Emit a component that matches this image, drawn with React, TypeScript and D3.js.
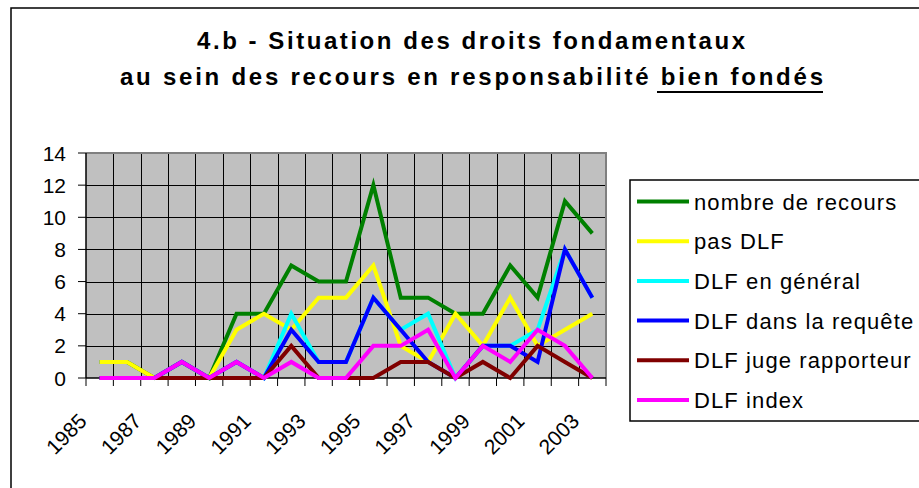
import * as d3 from "d3";
import React from "react";

const years = ["1985", "1986", "1987", "1988", "1989", "1990", "1991", "1992", "1993", "1994", "1995", "1996", "1997", "1998", "1999", "2000", "2001", "2002", "2003"];
const yearLabels = ["1985", "1987", "1989", "1991", "1993", "1995", "1997", "1999", "2001", "2003"];
const yTicks = [0, 2, 4, 6, 8, 10, 12, 14];

const nombreDeRecours = [1, 1, 0, 1, 0, 4, 4, 7, 6, 6, 12, 5, 5, 4, 4, 7, 5, 11, 9];
const pasDLF = [1, 1, 0, 0, 0, 3, 4, 3, 5, 5, 7, 2, 1, 4, 2, 5, 2, 3, 4];
const dlfGeneral = [0, 0, 0, 1, 0, 1, 0, 4, 1, 1, 5, 3, 4, 0, 2, 2, 3, 8, 5];
const dlfRequete = [0, 0, 0, 1, 0, 1, 0, 3, 1, 1, 5, 3, 1, 0, 2, 2, 1, 8, 5];
const dlfJuge = [0, 0, 0, 0, 0, 0, 0, 2, 0, 0, 0, 1, 1, 0, 1, 0, 2, 1, 0];
const dlfIndex = [0, 0, 0, 1, 0, 1, 0, 1, 0, 0, 2, 2, 3, 0, 2, 1, 3, 2, 0];

const seriesNames = ["nombre de recours", "pas DLF", "DLF en général", "DLF dans la requête", "DLF juge rapporteur", "DLF index"];
const seriesColors = ["#008000", "#FFFF00", "#00FFFF", "#0000FF", "#800000", "#FF00FF"];
const seriesValues = [nombreDeRecours, pasDLF, dlfGeneral, dlfRequete, dlfJuge, dlfIndex];

const font = "Arial, 'Liberation Sans', sans-serif";

export default function App() {
  const left = 86;
  const right = 606;
  const top = 153;
  const bottom = 378;

  const x = d3.scaleBand().domain(years).range([left, right]);
  const y = d3.scaleLinear().domain([0, 14]).range([bottom, top]);
  const step = x.step();
  const cx = (yr: string) => (x(yr) as number) + x.bandwidth() / 2;

  const line = d3
    .line<number>()
    .x((d, i) => cx(years[i]))
    .y((d) => y(d));

  const boundaries = d3.range(years.length + 1).map((k) => left + k * step);

  return (
    <svg
      width={919}
      height={488}
      style={{ position: "absolute", left: 0, top: 0, background: "#fff" }}
      fontFamily={font}
    >
      <rect x={0} y={0} width={919} height={488} fill="#fff" />
      <rect x={11} y={8} width={1000} height={1000} fill="none" stroke="#000" strokeWidth={1.5} />

      {/* titre */}
      <text x={197} y={49} fontSize={24} fontWeight="bold" textLength={548} lengthAdjust="spacing">
        4.b - Situation des droits fondamentaux
      </text>
      <text x={120} y={85} fontSize={24} fontWeight="bold" textLength={703} lengthAdjust="spacing">
        au sein des recours en responsabilité bien fondés
      </text>
      <line x1={657} x2={823} y1={92} y2={92} stroke="#000" strokeWidth={2} />

      {/* zone de tracé */}
      <rect x={left} y={top} width={right - left} height={bottom - top} fill="#C0C0C0" />
      {yTicks.slice(1).map((t) => (
        <line key={"h" + t} x1={left} x2={right} y1={Math.round(y(t)) + 0.5} y2={Math.round(y(t)) + 0.5} stroke="#000" strokeWidth={1} />
      ))}
      {boundaries.slice(1, -1).map((b, i) => (
        <line key={"v" + i} x1={Math.round(b) + 0.5} x2={Math.round(b) + 0.5} y1={top} y2={bottom} stroke="#000" strokeWidth={1} />
      ))}
      <path d={`M${left},${top}H${right}V${bottom}`} fill="none" stroke="#808080" strokeWidth={2} />

      {/* axes */}
      <line x1={left} x2={left} y1={top} y2={bottom} stroke="#000" strokeWidth={1.5} />
      <line x1={left} x2={right} y1={bottom} y2={bottom} stroke="#000" strokeWidth={1.5} />
      {yTicks.map((t) => (
        <g key={"yt" + t}>
          <line x1={left - 8} x2={left} y1={y(t)} y2={y(t)} stroke="#000" strokeWidth={1} />
          <text x={66} y={y(t) + 7.5} textAnchor="end" fontSize={21}>
            {t}
          </text>
        </g>
      ))}
      {boundaries.map((b, i) => (
        <line key={"xt" + i} x1={b} x2={b} y1={bottom} y2={bottom + 8} stroke="#000" strokeWidth={1} />
      ))}
      {yearLabels.map((yr) => (
        <text
          key={yr}
          transform={`translate(${cx(yr) - 11.7},${bottom + 44.6}) rotate(-45)`}
          textAnchor="end"
          fontSize={21}
        >
          {yr}
        </text>
      ))}

      {/* séries */}
      {seriesValues.map((vals, i) => (
        <path key={"s" + i} d={line(vals) as string} fill="none" stroke={seriesColors[i]} strokeWidth={4} strokeLinejoin="miter" />
      ))}

      {/* légende */}
      <rect x={630} y={180} width={400} height={241} fill="#fff" stroke="#000" strokeWidth={1.5} />
      {seriesNames.map((name, i) => {
        const ly = 201.5 + i * 39.7;
        return (
          <g key={"l" + i}>
            <line x1={637} x2={689} y1={ly} y2={ly} stroke={seriesColors[i]} strokeWidth={4} />
            <text x={694} y={ly + 8} fontSize={22} letterSpacing={1.1}>
              {name}
            </text>
          </g>
        );
      })}
    </svg>
  );
}
